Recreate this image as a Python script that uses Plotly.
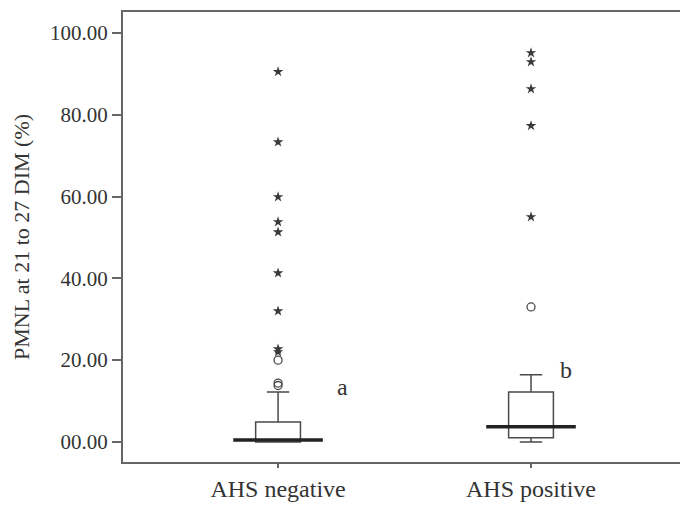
import plotly.graph_objects as go

categories = ["AHS negative", "AHS positive"]
q1 = [0.0, 1.0]
median = [0.5, 3.7]
q3 = [4.9, 12.2]
lowerfence = [0.0, 0.0]
upperfence = [12.2, 16.4]

# outliers (circles) and extremes (stars)
circle_neg = [13.8, 14.4, 20.0]
circle_pos = [33.0]
star_neg = [22.0, 22.7, 32.0, 41.3, 51.3, 53.8, 59.9, 73.3, 90.5]
star_pos = [55.0, 77.3, 86.3, 92.9, 95.1]

letters = ["a", "b"]
letter_dx = [64, 35]

yticks = [0, 20, 40, 60, 80, 100]
yticktext = ["00.00", "20.00", "40.00", "60.00", "80.00", "100.00"]

FONT = "Liberation Serif, Times New Roman, Times, serif"
LINE = "#4a4a4a"

fig = go.Figure()
fig.add_trace(go.Box(
    x=categories, q1=q1, median=median, q3=q3,
    lowerfence=lowerfence, upperfence=upperfence,
    fillcolor="white", line=dict(color=LINE, width=1.5),
    whiskerwidth=0.5, boxpoints=False, showlegend=False,
))
# thick median line
fig.add_trace(go.Scatter(
    x=categories, y=median, mode="markers",
    marker=dict(symbol="line-ew-open", size=64, color="#222", line=dict(color="#222", width=3.5)),
    showlegend=False, hoverinfo="skip",
))
for cat, circ, star in [(categories[0], circle_neg, star_neg), (categories[1], circle_pos, star_pos)]:
    fig.add_trace(go.Scatter(
        x=[cat] * len(circ), y=circ, mode="markers",
        marker=dict(symbol="circle-open", size=8, color=LINE, line=dict(width=1.3, color=LINE)),
        showlegend=False,
    ))
    fig.add_trace(go.Scatter(
        x=[cat] * len(star), y=star, mode="markers",
        marker=dict(symbol="star", size=8, color="#3a3a3a", line=dict(width=0)),
        showlegend=False,
    ))

for cat, lab, uf, dx in zip(categories, letters, upperfence, letter_dx):
    fig.add_annotation(x=cat, y=uf, text=lab, showarrow=False, xshift=dx, yshift=5,
                       font=dict(family=FONT, size=24, color="#333"))

fig.update_layout(
    width=680, height=510,
    margin=dict(l=123, r=0, t=12, b=48, autoexpand=False),
    plot_bgcolor="white", paper_bgcolor="white",
    boxgap=0.747,
    font=dict(family=FONT, color="#333"),
)
fig.update_xaxes(
    type="category", range=[-0.613, 1.589],
    showline=True, linecolor="#666", linewidth=2, mirror=True,
    ticks="outside", ticklen=4, tickcolor="#666", tickwidth=1.5,
    tickfont=dict(family=FONT, size=24, color="#333"),
    showgrid=False, zeroline=False,
)
fig.update_yaxes(
    range=[-4.9, 105.1],
    tickvals=yticks, ticktext=yticktext,
    showline=True, linecolor="#666", linewidth=2,
    ticks="outside", ticklen=9, tickcolor="#666", tickwidth=1.5,
    tickfont=dict(family=FONT, size=21, color="#333"),
    showgrid=False, zeroline=False,
    title=dict(text="PMNL at 21 to 27 DIM (%)", font=dict(family=FONT, size=22, color="#333"), standoff=14),
)

# remove the default page margin so the 680x510 figure fills the window exactly
fig.write_html("out.html", config={"displayModeBar": False},
               post_script="document.body.style.margin='0';document.body.style.overflow='hidden';")
